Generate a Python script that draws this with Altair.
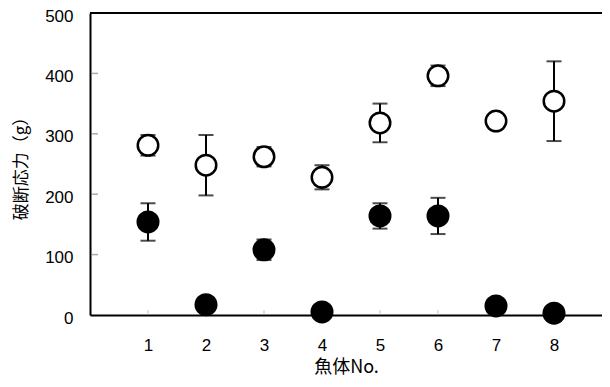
import altair as alt
import pandas as pd

fish = [1, 2, 3, 4, 5, 6, 7, 8]
open_mean = [281, 248, 262, 228, 318, 396, 321, 354]
open_err = [17, 50, 16, 20, 32, 17, 8, 66]
filled_mean = [154, 17, 108, 5, 164, 164, 15, 3]
filled_err = [31, 0, 17, 0, 21, 30, 0, 0]
y_ticks = [0, 100, 200, 300, 400, 500]

rows = []
for i, f in enumerate(fish):
    rows.append({"fish": f, "group": "open", "mean": open_mean[i],
                 "lo": open_mean[i] - open_err[i], "hi": open_mean[i] + open_err[i],
                 "err": open_err[i]})
for i, f in enumerate(fish):
    rows.append({"fish": f, "group": "filled", "mean": filled_mean[i],
                 "lo": filled_mean[i] - filled_err[i], "hi": filled_mean[i] + filled_err[i],
                 "err": filled_err[i]})
df = pd.DataFrame(rows)
err_df = df[df["err"] > 0]

W, H = 512, 302
xmax = W / 58.0

xs = alt.Scale(domain=[0, xmax], nice=False, zero=False)
ys = alt.Scale(domain=[0, 500], nice=False)

base_font = "Liberation Sans"
cjk_font = "Noto Sans CJK JP"

xaxis = alt.Axis(values=fish, format="d", tickSize=0, domain=True, domainColor="black",
                 domainWidth=2, grid=False, labelFont=base_font, labelFontSize=17,
                 labelColor="black", labelPadding=22, title="魚体No.",
                 titleFont=cjk_font, titleFontSize=18, titleFontWeight="normal",
                 titleColor="black", titlePadding=5)
yaxis = alt.Axis(values=y_ticks, format="d", tickSize=0, domain=True, domainColor="black",
                 domainWidth=2, grid=False, labelFont=base_font, labelFontSize=17,
                 labelColor="black", labelPadding=17, labelOffset=3, title="破断応力（g）",
                 titleFont=cjk_font, titleFontSize=17, titleFontWeight="normal",
                 titleColor="black", titleX=-69, titleY=H / 2, titleAngle=-90,
                 titleAlign="center", titleBaseline="middle")

err_rule = alt.Chart(err_df).mark_rule(color="black", strokeWidth=2).encode(
    x=alt.X("fish:Q", scale=xs, axis=xaxis),
    y=alt.Y("lo:Q", scale=ys, axis=yaxis),
    y2="hi:Q",
)
cap_lo = alt.Chart(err_df).mark_tick(color="black", orient="horizontal", size=15,
                                     thickness=2).encode(
    x=alt.X("fish:Q", scale=xs), y=alt.Y("lo:Q", scale=ys))
cap_hi = alt.Chart(err_df).mark_tick(color="black", orient="horizontal", size=15,
                                     thickness=2).encode(
    x=alt.X("fish:Q", scale=xs), y=alt.Y("hi:Q", scale=ys))

open_pts = alt.Chart(df[df["group"] == "open"]).mark_point(
    shape="circle", filled=True, fill="white", stroke="black", strokeWidth=2.5,
    size=420, opacity=1).encode(
    x=alt.X("fish:Q", scale=xs), y=alt.Y("mean:Q", scale=ys))
filled_pts = alt.Chart(df[df["group"] == "filled"]).mark_point(
    shape="circle", filled=True, fill="black", stroke="black", strokeWidth=0,
    size=529, opacity=1).encode(
    x=alt.X("fish:Q", scale=xs), y=alt.Y("mean:Q", scale=ys))

inner_y = alt.Chart(pd.DataFrame({"v": y_ticks[1:-1]})).mark_tick(
    color="#888888", orient="horizontal", size=7, thickness=1.5).encode(
    x=alt.value(4.5), y=alt.Y("v:Q", scale=ys))
inner_x = alt.Chart(pd.DataFrame({"f": fish})).mark_tick(
    color="#aaaaaa", orient="vertical", size=5, thickness=1).encode(
    y=alt.value(H - 2.5), x=alt.X("f:Q", scale=xs))

top_line = alt.Chart(pd.DataFrame({"a": [0]})).mark_rule(color="black", strokeWidth=2).encode(
    y=alt.value(0), x=alt.value(0), x2=alt.value(W))

chart = alt.layer(err_rule, cap_lo, cap_hi, inner_y, inner_x, top_line, open_pts, filled_pts).properties(
    width=W, height=H,
    autosize=alt.AutoSizeParams(type="none"),
    padding={"left": 82, "top": 5, "right": 0, "bottom": 64},
).configure_view(stroke=None).configure(background="white")

chart.save("out.html", embed_options={"renderer": "svg", "actions": False})
